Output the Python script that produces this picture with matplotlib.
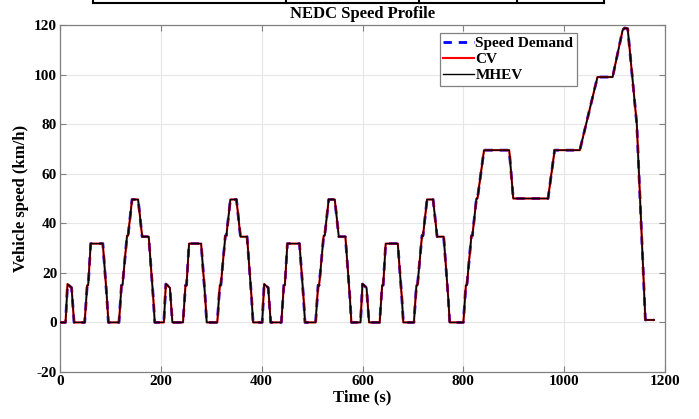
import numpy as np
import matplotlib.pyplot as plt
from matplotlib.lines import Line2D

plt.rcParams['font.family'] = 'Liberation Serif'
plt.rcParams['font.weight'] = 'bold'
plt.rcParams['font.size'] = 11
plt.rcParams['axes.unicode_minus'] = False

# NEDC breakpoints: time (s), speed (km/h)
time_s = [0, 11, 15, 23, 28, 49, 54, 56, 61, 85, 93, 96, 117, 122, 124, 133, 135, 143, 155, 163, 176, 185, 188,
          206, 210, 218, 223, 244, 249, 251, 256, 280, 288, 291, 312, 317, 319, 328, 330, 338, 350, 358, 371, 380, 383,
          401, 405, 413, 418, 439, 444, 446, 451, 475, 483, 486, 507, 512, 514, 523, 525, 533, 545, 553, 566, 575, 578,
          596, 600, 608, 613, 634, 639, 641, 646, 670, 678, 681, 702, 707, 709, 718, 720, 728, 740, 748, 761, 770, 773,
          800, 805, 807, 816, 818, 826, 828, 841, 891, 899, 968, 981, 1031, 1066, 1096, 1116, 1120, 1126,
          1144, 1161, 1178]

speed_demand = [0, 0, 15.5, 14, 0, 0, 15, 15, 31.8, 31.8, 10, 0, 0, 15, 15, 35, 35, 49.6, 49.6, 34.6, 34.6, 10, 0,
                0, 15.5, 14, 0, 0, 15, 15, 31.8, 31.8, 10, 0, 0, 15, 15, 35, 35, 49.6, 49.6, 34.6, 34.6, 10, 0,
                0, 15.5, 14, 0, 0, 15, 15, 31.8, 31.8, 10, 0, 0, 15, 15, 35, 35, 49.6, 49.6, 34.6, 34.6, 10, 0,
                0, 15.5, 14, 0, 0, 15, 15, 31.8, 31.8, 10, 0, 0, 15, 15, 35, 35, 49.6, 49.6, 34.6, 34.6, 10, 0,
                0, 15, 15, 35, 35, 50, 50, 69.5, 69.5, 50, 50, 69.5, 69.5, 99, 99, 118, 118.8, 118.5,
                80, 1, 1]

cv_speed = speed_demand
mhev_speed = speed_demand

fig = plt.figure(figsize=(6.99, 4.19), dpi=100)
ax = fig.add_axes([0.0858, 0.1122, 0.8656, 0.8281])

ax.plot(time_s, speed_demand, color='blue', linestyle='--', linewidth=2.0, dashes=(3, 2.5), zorder=2,
        label='Speed Demand')
ax.plot(time_s, cv_speed, color='red', linewidth=1.5, zorder=3, label='CV')
ax.plot(time_s, mhev_speed, color='black', linewidth=1.0, zorder=4, label='MHEV')

ax.set_xlim(0, 1200)
ax.set_ylim(-20, 120)
ax.set_xticks(np.arange(0, 1201, 200))
ax.set_yticks(np.arange(-20, 121, 20))
ax.grid(True, color='#e6e6e6', linewidth=0.8)
ax.set_axisbelow(True)
for s in ax.spines.values():
    s.set_color('#808080')
    s.set_linewidth(0.9)
ax.tick_params(direction='in', top=True, right=True, length=4, color='#808080', labelsize=11, pad=2)

ax.set_title('NEDC Speed Profile', fontsize=12, fontweight='bold', pad=5)
ax.set_xlabel('Time (s)', fontsize=12, fontweight='bold', labelpad=1)
ax.set_ylabel('Vehicle speed (km/h)', fontsize=12, fontweight='bold', labelpad=4)

leg = ax.legend(loc='upper right', bbox_to_anchor=(0.855, 0.978), fancybox=False, framealpha=1,
                edgecolor='#808080', fontsize=11, handlelength=2.0, handletextpad=0.1,
                labelspacing=0.15, borderpad=0.25, borderaxespad=0)
leg.get_frame().set_linewidth(0.9)

# cut-off table border at the very top of the page
W, H = 699, 419
def fx(px): return px / W
def fy(py): return 1 - py / H
fig.add_artist(Line2D([fx(93), fx(604)], [fy(3), fy(3)], color='black', linewidth=1.5))
for xv in [93, 286, 419, 517, 604]:
    fig.add_artist(Line2D([fx(xv), fx(xv)], [fy(-1), fy(3)], color='black', linewidth=1.5))

fig.savefig('out.png', dpi=100)
